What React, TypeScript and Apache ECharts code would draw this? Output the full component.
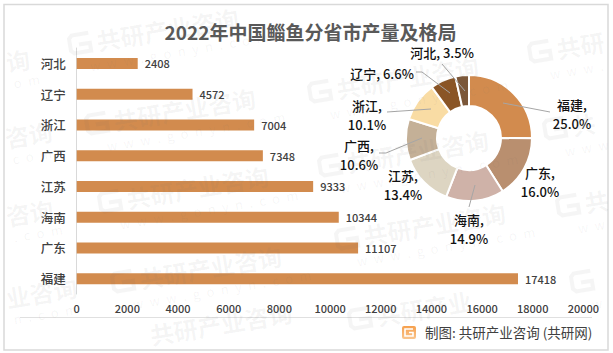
import React, { useEffect, useRef } from "react";
import * as echarts from "echarts";

const FONT = '"Noto Sans CJK SC", "Noto Sans", sans-serif';
const categories = ["河北", "辽宁", "浙江", "广西", "江苏", "海南", "广东", "福建"];
const values = [2408, 4572, 7004, 7348, 9333, 10344, 11107, 17418];
const pieNames = ["福建", "广东", "海南", "江苏", "广西", "浙江", "辽宁", "河北"];
const pieValues = [17418, 11107, 10344, 9333, 7348, 7004, 4572, 2408];
const pieColors = ["#D28B4E", "#B98F6F", "#CFB2A8", "#DDD5C2", "#C4B097", "#F9DCA4", "#8A5526", "#7B5739"];
const labelPos = [
  [572, 114], [540, 182], [469, 229], [403, 185], [359, 155], [367, 115], [382, 73], [442, 52],
];
const oneLine = ["辽宁", "河北"];
const leaders = [
  [[503, 103], [550, 112]],
  [[475, 185], [469, 207]],
  [[422, 138], [386, 153], [379, 153]],
  [[431, 109], [387, 112]],
  [[450, 93], [422, 72], [416, 72]],
  [[465, 91], [442, 64]],
];
// watermark tiles: logo x, y, visible headline, visible web line
const WM_HEAD = "共研产业咨询";
const WM_WEB = "w\u2002w\u2002w\u2002.\u2002g\u2002o\u2002n\u2002y\u2002n\u2002.\u2002c\u2002o\u2002m";
const watermarks: [number, number, string, string][] = [
  [70, 45, WM_HEAD, WM_WEB],
  [87, 125, WM_HEAD, WM_WEB],
  [100, 203, WM_HEAD, WM_WEB],
  [113, 283, WM_HEAD, WM_WEB],
  [310, 93, WM_HEAD, WM_WEB],
  [320, 167, WM_HEAD, WM_WEB],
  [337, 240, WM_HEAD, WM_WEB],
  [350, 320, "共研产业", ""],
  [530, 53, "共研", "w\u2002w\u2002w\u2002."],
  [545, 130, "共", "w\u2002w\u2002w"],
  [558, 207, "共", "w\u2002w"],
  [572, 283, "", "w"],
];
const wmPartial: [number, number, string, string][] = [
  [6, 62, "询", "o\u2002m"],
  [5, 138, "咨询", "c\u2002o\u2002m"],
  [6, 216, "咨询", ".\u2002c\u2002o\u2002m"],
  [6, 298, "业咨询", "n\u2002.\u2002c\u2002o\u2002m"],
  [150, 335, "共研产业咨询", ""],
];
const WM_FILL = "rgba(110,110,110,0.065)";

function wmText(dx: number, dy: number, text: string, font: string) {
  return { type: "text", x: dx, y: dy, z: 20, silent: true, style: { text, font, fill: WM_FILL, verticalAlign: "middle" } };
}
function watermark(x: number, y: number, head: string, web: string) {
  return {
    type: "group", x, y, rotation: 0.165, silent: true,
    children: [
      { type: "polyline", z: 20, silent: true, shape: { points: [[20, -9], [3, -9], [0, -6], [0, 6], [3, 9], [20, 9], [20, 1], [9, 1]] }, style: { fill: "none", stroke: WM_FILL, lineWidth: 4 } },
      ...(head ? [wmText(27, 0, head, `bold 24px ${FONT}`)] : []),
      ...(web ? [wmText(16, 24, web, `13px ${FONT}`)] : []),
    ],
  };
}
function watermarkPartial(x: number, y: number, head: string, web: string) {
  return {
    type: "group", x, y, rotation: 0.165, silent: true,
    children: [wmText(0, 0, head, `bold 24px ${FONT}`), ...(web ? [wmText(4, 22, web, `13px ${FONT}`)] : [])],
  };
}

const total = pieValues.reduce((a, b) => a + b, 0);

export default function App() {
  const ref = useRef<HTMLDivElement>(null);
  useEffect(() => {
    const chart = echarts.init(ref.current!, undefined, { renderer: "svg" });
    chart.setOption({
      animation: false,
      backgroundColor: "#ffffff",
      textStyle: { fontFamily: FONT },
      title: {
        text: "2022年中国鲻鱼分省市产量及格局",
        left: 305.5, top: 13, textAlign: "center",
        textStyle: { fontSize: 19, lineHeight: 27, fontWeight: "bold", color: "#595959", fontFamily: FONT },
      },
      grid: { left: 76.7, right: 29.6, top: 48, height: 246, containLabel: false },
      xAxis: {
        type: "value", min: 0, max: 20000, interval: 2000,
        axisLine: { show: false }, axisTick: { show: false }, splitLine: { show: false },
        axisLabel: { color: "#404040", fontSize: 11, fontWeight: 500, margin: 8, fontFamily: FONT, formatter: (v: number) => String(v) },
      },
      yAxis: {
        type: "category", inverse: true, data: categories,
        axisLine: { lineStyle: { color: "#D9D9D9" } }, axisTick: { show: false },
        axisLabel: { color: "#404040", fontSize: 12.5, fontWeight: 500, margin: 11, fontFamily: FONT },
      },
      series: [
        {
          type: "bar", data: values, barWidth: 11, z: 2,
          itemStyle: { color: "#D28B4E" },
          label: { show: true, position: "right", distance: 7, color: "#404040", fontSize: 11, fontWeight: 500, fontFamily: FONT },
        },
        {
          type: "pie", center: [469, 138], radius: [32, 63], startAngle: 90, z: 3,
          data: pieNames.map((name, i) => ({ name, value: pieValues[i], itemStyle: { color: pieColors[i] } })),
          itemStyle: { borderColor: "#ffffff", borderWidth: 2 },
          label: {
            show: true, position: "outside", color: "#111111", fontSize: 13, fontWeight: 500, lineHeight: 19, fontFamily: FONT,
            overflow: "none",
            formatter: (p: any) => `${p.name},${oneLine.includes(p.name) ? " " : "\n"}${((p.value / total) * 100).toFixed(1)}%`,
          },
          labelLine: { show: false },
          labelLayout: (p: any) => ({ x: labelPos[p.dataIndex][0], y: labelPos[p.dataIndex][1], align: "center", verticalAlign: "middle" }),
        },
      ],
      graphic: [
        { type: "rect", silent: true, z: 0, shape: { x: 4, y: 4.5, width: 604, height: 345.5 }, style: { fill: "none", stroke: "#D9D9D9", lineWidth: 1.5 } },
        ...watermarks.map(([x, y, h, w]) => watermark(x, y, h, w)),
        ...wmPartial.map(([x, y, h, w]) => watermarkPartial(x, y, h, w)),
        { type: "line", silent: true, z: 1, shape: { x1: 20, y1: 317.5, x2: 592, y2: 317.5 }, style: { stroke: "#E0E0E0", lineWidth: 1 } },
        ...leaders.map((pts) => ({ type: "polyline", silent: true, z: 10, shape: { points: pts }, style: { fill: "none", stroke: "#A6A6A6", lineWidth: 1 } })),
        {
          type: "rect", silent: true, z: 5, shape: { x: 402, y: 326, width: 14, height: 13, r: 2 },
          style: { fill: new echarts.graphic.LinearGradient(0, 0, 0, 1, [{ offset: 0, color: "#F6A04D" }, { offset: 1, color: "#F9C58E" }]) },
        },
        { type: "polyline", silent: true, z: 6, shape: { points: [[413, 329], [405, 329], [405, 336], [413, 336], [413, 332.5], [409, 332.5]] }, style: { fill: "none", stroke: "#ffffff", lineWidth: 1.6 } },
        { type: "text", silent: true, z: 6, x: 425, y: 332, style: { text: "制图: 共研产业咨询 (共研网)", font: `13.5px ${FONT}`, fill: "#404040", verticalAlign: "middle" } },
      ],
    });
    return () => chart.dispose();
  }, []);
  return <div ref={ref} style={{ position: "absolute", left: 0, top: 0, width: 613, height: 353 }} />;
}
